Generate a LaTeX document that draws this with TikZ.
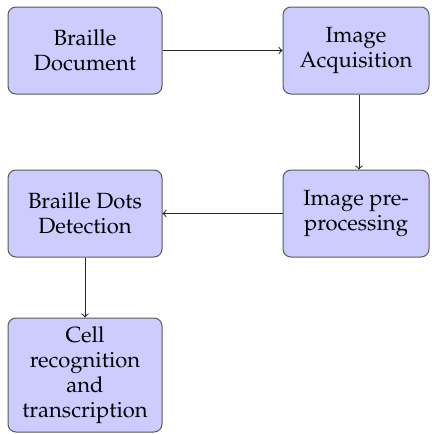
\documentclass[tikz,border=0pt]{standalone}
\usepackage[T1]{fontenc}
\usepackage{mathpazo}
\begin{document}
\begin{tikzpicture}[x=0.5pt,y=-0.5pt,
  stage/.style={draw=black!65, fill=blue!20, rounded corners=4pt, line width=0.5pt,
    align=center, inner sep=0pt,
    font=\fontsize{11}{12.5}\selectfont},
  flow/.style={->, line width=0.5pt, draw=black!85}]
  \useasboundingbox (0,0) rectangle (432,434);
  \node[stage, minimum width=77pt, minimum height=43.5pt] (doc) at (85,50.5) {Braille\\Document};
  \node[stage, minimum width=73pt, minimum height=43.5pt] (acq) at (356,50.5) {Image\\Acquisition};
  \node[stage, minimum width=73pt, minimum height=43.5pt] (pre) at (356,213.5) {Image pre-\\processing};
  \node[stage, minimum width=77pt, minimum height=43.5pt] (dots) at (85,213.5) {Braille Dots\\Detection};
  \node[stage, minimum width=77pt, minimum height=57pt] (cell) at (85,375) {Cell\\recognition\\and\\transcription};
  \draw[flow] (doc) -- (acq);
  \draw[flow] ([xshift=1.5pt]acq.south) -- ([xshift=1.5pt]pre.north);
  \draw[flow] (pre) -- (dots);
  \draw[flow] (dots) -- (cell);
\end{tikzpicture}
\end{document}
